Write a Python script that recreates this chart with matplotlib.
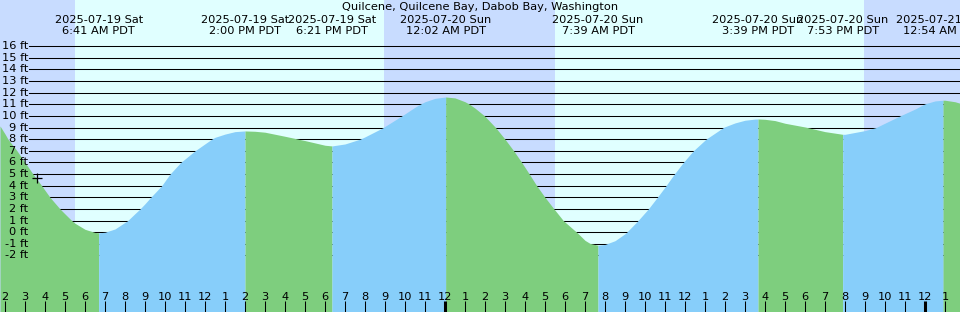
import numpy as np
import matplotlib
matplotlib.use("Agg")
import matplotlib.pyplot as plt
from matplotlib.transforms import blended_transform_factory

plt.rcParams['font.family'] = ['DejaVu Sans']

TITLE = "Quilcene, Quilcene Bay, Dabob Bay, Washington"

# Hours relative to 2025-07-20 00:00 PDT, tide heights (ft)
sample_hours = [-22.25, -22, -21, -20, -19, -18.5, -18, -17.5, -17, -16.5, -16, -15.5,
                -15, -14, -13, -12, -11.5, -11, -10.5, -9.5,
                -9, -8, -7, -6, -5, -4, -3, -2, -1.5, -1, -0.5, 0.5, 1, 1.5, 2, 3, 4, 5,
                6, 6.5, 7, 7.25, 8, 8.5, 9,
                10, 11, 12, 13, 14, 14.5, 15, 15.5, 16, 16.5, 17, 18, 19, 20, 21, 22,
                23, 23.5, 24, 24.5, 25, 25.5, 25.75]
sample_heights = [9.14, 8.45, 6.0, 3.6, 1.57, 0.77, 0.25, -0.02, 0.0, 0.28, 0.85, 1.6,
                  2.45, 4.4, 6.3, 7.6, 8.16, 8.44, 8.65, 8.68,
                  8.6, 8.25, 7.88, 7.48, 7.59, 8.2, 9.1, 10.18, 10.75, 11.22, 11.51, 11.55,
                  11.22, 10.67, 9.96, 8.0, 5.57, 3.0,
                  0.87, 0.12, -0.7, -0.96, -1.05, -0.73, -0.13,
                  1.68, 3.88, 6.17, 7.92, 9.07, 9.40, 9.63, 9.73, 9.71, 9.60, 9.37, 9.05,
                  8.65, 8.42, 8.74, 9.38,
                  10.2, 10.59, 11.04, 11.29, 11.35, 11.22, 11.09]

# Times where the curve crosses whole-foot grid lines
cross_hours = [-21.85, -21.4, -20.6, -20.165, -19.75, -19.25, -18.665,
               -15.865, -15.25, -14.715, -14.165, -13.75, -13.215, -12.5, -11.665,
               -4.25, -3.085, -2.165, -1.25,
               1.23, 1.98, 2.53, 3.435, 3.835, 4.215, 4.585, 5.45, 5.915, 6.585,
               9.085, 9.65, 10.165, 10.615, 11.05, 11.465, 11.915, 12.415, 13.05, 13.915,
               21.55, 22.75, 23.95]
cross_heights = [8, 7, 5, 4, 3, 2, 1,
                 1, 2, 3, 4, 5, 6, 7, 8,
                 8, 9, 10, 11,
                 11, 10, 9, 7, 6, 5, 4, 2, 1, 0,
                 0, 1, 2, 3, 4, 5, 6, 7, 8, 9,
                 9, 10, 11]

# Tide extremes
event_hours = [-17.317, -10.0, -5.65, 0.033, 7.65, 15.65, 19.883, 24.9]
event_heights = [-0.05, 8.71, 7.42, 11.63, -1.12, 9.74, 8.42, 11.35]
event_dates = ["2025-07-19 Sat", "2025-07-19 Sat", "2025-07-19 Sat", "2025-07-20 Sun",
               "2025-07-20 Sun", "2025-07-20 Sun", "2025-07-20 Sun", "2025-07-21 Mon"]
event_times = ["6:41 AM PDT", "2:00 PM PDT", "6:21 PM PDT", "12:02 AM PDT",
               "7:39 AM PDT", "3:39 PM PDT", "7:53 PM PDT", "12:54 AM PDT"]

# Sunrise / sunset (hours relative to 2025-07-20 00:00)
sunrise_hours = [-18.5, 5.5]
sunset_hours = [-3.05, 20.95]

# Current time marker
now_hour = -20.4
now_height = 4.67

tick_hours = list(range(-22, 26))
tick_labels = [str((h % 12) or 12) for h in tick_hours]
grid_levels = list(range(-2, 17))

W, H = 960, 312
fig = plt.figure(figsize=(W / 100, H / 100), dpi=100)
ax = fig.add_axes([0, 0, 1, 1])
XMIN, XMAX = -22.25, 25.75
YMIN, YMAX = -6.86, 19.97
ax.set_xlim(XMIN, XMAX)
ax.set_ylim(YMIN, YMAX)
ax.axis('off')

DAY = '#E0FFFF'
NIGHT = '#C8DCFF'
EBB = '#7ECE7E'
FLOOD = '#87CEFA'

# day / night background
edges = [XMIN] + sorted(sunrise_hours + sunset_hours) + [XMAX]
for i in range(len(edges) - 1):
    ax.axvspan(edges[i], edges[i + 1], color=NIGHT if i % 2 == 0 else DAY, lw=0, zorder=0)

# horizontal grid lines
for lv in grid_levels:
    ax.axhline(lv, xmin=29 / W, xmax=1, color='black', lw=0.75, zorder=1)

# tide curve fill
t = np.array(sample_hours + cross_hours + event_hours, dtype=float)
hgt = np.array(sample_heights + cross_heights + event_heights, dtype=float)
order = np.argsort(t, kind='stable')
t, hgt = t[order], hgt[order]
bounds = [XMIN] + event_hours + [XMAX]
for i in range(len(bounds) - 1):
    a, b = bounds[i], bounds[i + 1]
    m = (t >= a - 1e-9) & (t <= b + 1e-9)
    ts, hs = t[m], hgt[m]
    falling = hs[-1] < hs[0]
    ax.fill_between(ts, hs, YMIN, color=EBB if falling else FLOOD, lw=0, zorder=2)

# now marker
ax.plot([now_hour], [now_height], marker='+', color='black', ms=7, mew=0.9, zorder=5)

FS = 8.2
# left height labels
tr_l = blended_transform_factory(ax.transAxes, ax.transData)
for lv in grid_levels:
    ax.text(28 / W, lv, f"{lv} ft", transform=tr_l, ha='right', va='center',
            fontsize=FS, zorder=6)

# bottom hour ticks
tr_b = blended_transform_factory(ax.transData, ax.transAxes)
for h, lab in zip(tick_hours, tick_labels):
    ax.plot([h, h], [0, 11 / H], transform=tr_b, color='black',
            lw=2.2 if h % 24 == 0 else 0.75, solid_capstyle='butt', zorder=6)
    ax.text(h, 1 - 297 / H, lab, transform=tr_b, ha='center', va='center',
            fontsize=FS, zorder=6)

# header labels
for eh, d, tm in zip(event_hours, event_dates, event_times):
    ax.text(eh, 1 - 20 / H, d, transform=tr_b, ha='center', va='center', fontsize=FS, zorder=6)
    ax.text(eh, 1 - 31 / H, tm, transform=tr_b, ha='center', va='center', fontsize=FS, zorder=6)

ax.text(0.5, 1 - 7.5 / H, TITLE, transform=ax.transAxes, ha='center', va='center',
        fontsize=FS, zorder=6)

fig.savefig('out.png', dpi=100)
